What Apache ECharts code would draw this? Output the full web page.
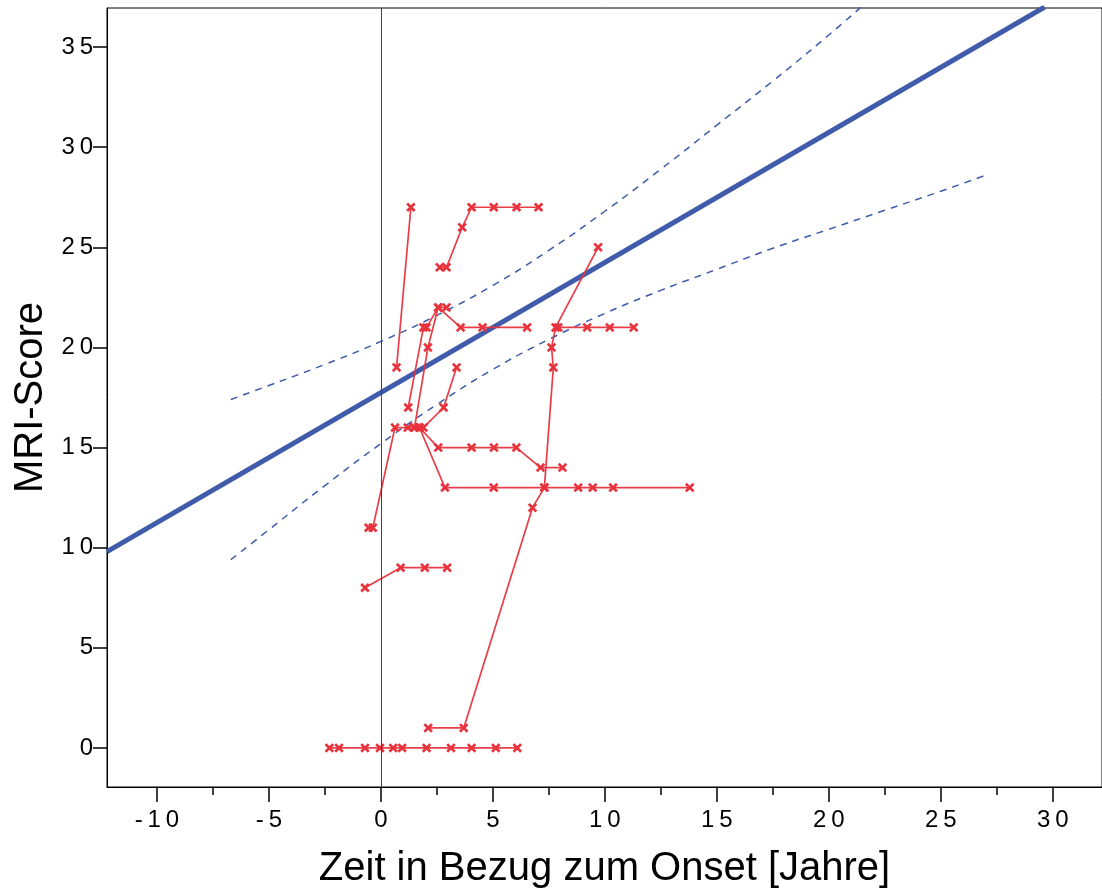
<!DOCTYPE html>
<html>
<head>
<meta charset="utf-8">
<title>MRI-Score vs. Zeit</title>
<script src="https://cdn.jsdelivr.net/npm/echarts@6/dist/echarts.min.js"></script>
<style>
  html, body { margin: 0; padding: 0; background: #fff; }
  #chart { width: 1102px; height: 890px; }
</style>
</head>
<body>
<div id="chart"></div>
<script>
// Axis ranges and tick positions
const xRange = [-12.23, 32.2];
const yRange = [-1.95, 36.95];
const xMajorTicks = [-10, -5, 0, 5, 10, 15, 20, 25, 30];
const xMinorTicks = [-12.5, -7.5, -2.5, 2.5, 7.5, 12.5, 17.5, 22.5, 27.5, 32.5];
const yMajorTicks = [0, 5, 10, 15, 20, 25, 30, 35];

// Individual patient courses: [years relative to onset, MRI score]
const subj01 = [[0.7, 19], [1.34, 27]];
const subj02 = [[2.63, 24], [2.93, 24], [3.63, 26], [4.05, 27], [5.04, 27], [6.06, 27], [7.04, 27]];
const subj03 = [[1.22, 17], [1.9, 21], [2.04, 21], [2.56, 22], [2.93, 22]];
const subj04 = [[1.5, 16], [2.1, 20], [2.56, 22], [3.56, 21], [4.54, 21], [6.53, 21]];
const subj05 = [[-0.55, 11], [-0.36, 11], [0.63, 16], [1.2, 16], [1.5, 16]];
const subj06 = [[1.5, 16], [1.9, 16], [2.8, 17], [3.38, 19]];
const subj07 = [[1.72, 16], [2.56, 15], [4.05, 15], [5.05, 15], [6.05, 15], [7.13, 14], [8.11, 14]];
const subj08 = [[1.72, 16], [2.86, 13], [5.04, 13], [7.3, 13], [8.81, 13], [9.46, 13], [10.37, 13], [13.79, 13]];
const subj09 = [[2.11, 1], [3.7, 1], [6.77, 12], [7.3, 13], [7.7, 19], [7.62, 20], [7.8, 21], [9.7, 25]];
const subj10 = [[7.92, 21], [9.21, 21], [10.22, 21], [11.29, 21]];
const subj11 = [[-0.71, 8], [0.88, 9], [1.96, 9], [2.96, 9]];
const subj12 = [[-2.3, 0], [-1.87, 0], [-0.71, 0], [-0.04, 0], [0.55, 0], [0.95, 0], [2.04, 0], [3.13, 0], [4.05, 0], [5.13, 0], [6.09, 0]];
const courses = [subj01, subj02, subj03, subj04, subj05, subj06, subj07, subj08, subj09, subj10, subj11, subj12];

// Fitted trend line and its confidence limits
const fitLine = [[-12.23, 9.8], [29.64, 37.0]];
const upperLimit = [[-6.7, 17.4], [-5, 18.1], [-2.5, 19.15], [0, 20.3], [2.5, 21.6], [5, 23.1], [7.5, 24.85],
  [10, 26.8], [12.5, 28.9], [15, 31.1], [17.5, 33.3], [20, 35.6], [21.45, 37.0]];
const lowerLimit = [[-6.7, 9.4], [-5, 10.9], [-2.5, 13.1], [0, 15.2], [2.5, 17.15], [5, 18.9], [7.5, 20.4],
  [10, 21.7], [12.5, 22.85], [15, 23.9], [17.5, 24.95], [20, 25.9], [22.5, 26.85], [25, 27.8], [27, 28.6]];

const FONT = 'Liberation Sans, Arial, Helvetica, sans-serif';
const RED = '#E8333D';
const BLUE = '#3F5BAA';
const CROSS = 'path://M0,2 L2,0 L5,3 L8,0 L10,2 L7,5 L10,8 L8,10 L5,7 L2,10 L0,8 L3,5 Z';
const spaced = v => String(v).split('').join('\u2009');

const series = [];

// vertical reference at onset
series.push({
  type: 'line', data: [], silent: true, z: 1,
  markLine: {
    silent: true, symbol: 'none', animation: false,
    label: { show: false },
    lineStyle: { color: '#444', width: 1, type: 'solid' },
    data: [{ xAxis: 0 }]
  }
});

series.push({
  type: 'line', data: fitLine, showSymbol: false, silent: true, z: 2,
  lineStyle: { color: BLUE, width: 5 }
});
[upperLimit, lowerLimit].forEach(d => series.push({
  type: 'line', data: d, smooth: true, showSymbol: false, silent: true, z: 2,
  lineStyle: { color: BLUE, width: 1.5, type: [7, 6] }
}));

courses.forEach(d => series.push({
  type: 'line', data: d, z: 3,
  symbol: CROSS, symbolSize: 9.5, showSymbol: true,
  itemStyle: { color: RED },
  lineStyle: { color: RED, width: 1.7, opacity: 0.95 }
}));

const option = {
  animation: false,
  backgroundColor: '#fff',
  grid: {
    left: 107, top: 8, right: 0, bottom: 103,
    containLabel: false, outerBoundsMode: 'none',
    show: true, borderColor: '#000', borderWidth: 1
  },
  xAxis: [{
    type: 'value', min: xRange[0], max: xRange[1],
    name: 'Zeit in Bezug zum Onset [Jahre]', nameLocation: 'middle', nameGap: 62,
    nameTextStyle: { fontSize: 40, fontFamily: FONT, color: '#000' },
    axisLine: { show: true, onZero: false, lineStyle: { color: '#000', width: 1 } },
    axisTick: { show: true, inside: false, length: 15, customValues: xMajorTicks, lineStyle: { color: '#000', width: 1.5 } },
    axisLabel: { customValues: xMajorTicks, formatter: spaced, margin: 21, fontSize: 24, fontFamily: FONT, color: '#000' },
    splitLine: { show: false }
  }, {
    type: 'value', min: xRange[0], max: xRange[1], position: 'bottom',
    axisLine: { show: false, onZero: false },
    axisTick: { show: true, inside: false, length: 8, customValues: xMinorTicks, lineStyle: { color: '#000', width: 1.5 } },
    axisLabel: { show: false },
    splitLine: { show: false }
  }],
  yAxis: {
    type: 'value', min: yRange[0], max: yRange[1],
    name: 'MRI-Score', nameLocation: 'middle', nameGap: 47, nameRotate: 90,
    nameTextStyle: { fontSize: 40, fontFamily: FONT, color: '#000' },
    axisLine: { show: true, onZero: false, lineStyle: { color: '#000', width: 1 } },
    axisTick: { show: true, inside: false, length: 14, customValues: yMajorTicks, lineStyle: { color: '#000', width: 1.5 } },
    axisLabel: { customValues: yMajorTicks, formatter: spaced, margin: 14, fontSize: 24, fontFamily: FONT, color: '#000', padding: [8, 0, 0, 0] },
    splitLine: { show: false }
  },
  series: series
};

const chart = echarts.init(document.getElementById('chart'), null, { renderer: 'canvas' });
chart.setOption(option);
</script>
</body>
</html>
